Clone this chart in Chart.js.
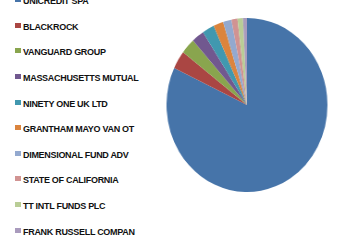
<!DOCTYPE html>
<html>
<head>
<meta charset="utf-8">
<script src="https://cdn.jsdelivr.net/npm/chart.js"></script>
<style>
  html, body { margin: 0; padding: 0; background: #fff; }
  body { width: 350px; height: 248px; position: relative; overflow: hidden; }
  #pieBox { position: absolute; left: 160px; top: 18px; width: 174px; height: 174px; transform: scaleX(0.925); transform-origin: 87px 87px; }
  #legend { position: absolute; left: 0; top: 0; }
  .item { position: absolute; left: 15px; height: 12px; white-space: nowrap;
    font: bold 9px "Liberation Sans", Arial, sans-serif; color: #111; line-height: 12px; letter-spacing: -0.3px; }
  .sw { position: absolute; left: 0; top: 3px; width: 6px; height: 5px; }
  .txt { position: absolute; left: 8px; top: 1px; }
</style>
</head>
<body>
<div id="legend"></div>
<div id="pieBox"><canvas id="pie"></canvas></div>
<script>
var holders = ["UNICREDIT SPA", "BLACKROCK", "VANGUARD GROUP", "MASSACHUSETTS MUTUAL", "NINETY ONE UK LTD",
  "GRANTHAM MAYO VAN OT", "DIMENSIONAL FUND ADV", "STATE OF CALIFORNIA", "TT INTL FUNDS PLC", "FRANK RUSSELL COMPAN"];
var shares = [81.9, 3.4, 2.9, 2.5, 2.4, 2.0, 1.7, 1.2, 1.1, 0.8];
var colors = ["#4674A9", "#AA4643", "#89A54E", "#71588F", "#4198AF", "#DB843D", "#93A9CF", "#D19392", "#B9CD96", "#A99BBD"];

(function () {
  var lg = document.getElementById("legend");
  var html = holders.map(function (name, i) {
    var top = 0.2 + i * 25.6 - 6;
    return '<div class="item" style="top:' + top + 'px"><span class="sw" style="background:' + colors[i] +
      '"></span><span class="txt">' + name + "</span></div>";
  }).join("");
  lg.innerHTML = html;

  new Chart(document.getElementById("pie"), {
    type: "pie",
    data: {
      labels: holders,
      datasets: [{ data: shares, backgroundColor: colors, borderWidth: 0 }]
    },
    options: {
      responsive: true,
      maintainAspectRatio: false,
      animation: false,
      plugins: { legend: { display: false }, tooltip: { enabled: false } }
    }
  });
})();
</script>
</body>
</html>
